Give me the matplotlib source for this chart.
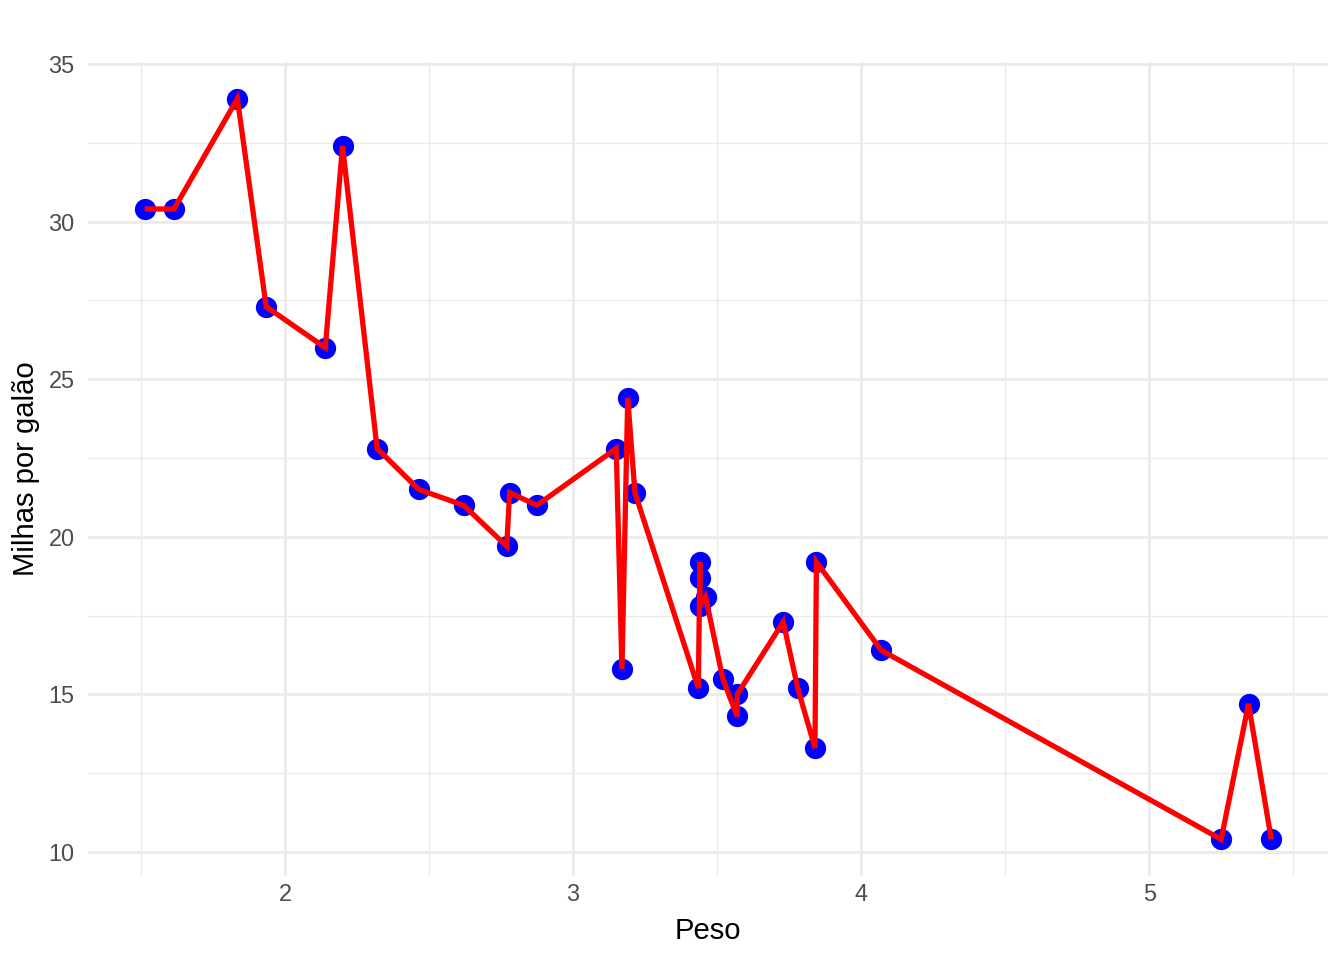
import matplotlib
matplotlib.use("Agg")
import matplotlib.pyplot as plt
from matplotlib.ticker import MultipleLocator
import numpy as np

# mtcars: peso (wt) e consumo (mpg)
wt = [2.620, 2.875, 2.320, 3.215, 3.440, 3.460, 3.570, 3.190, 3.150, 3.440,
      3.440, 4.070, 3.730, 3.780, 5.250, 5.424, 5.345, 2.200, 1.615, 1.835,
      2.465, 3.520, 3.435, 3.840, 3.845, 1.935, 2.140, 1.513, 3.170, 2.770,
      3.570, 2.780]
mpg = [21.0, 21.0, 22.8, 21.4, 18.7, 18.1, 14.3, 24.4, 22.8, 19.2,
       17.8, 16.4, 17.3, 15.2, 10.4, 10.4, 14.7, 32.4, 30.4, 33.9,
       21.5, 15.5, 15.2, 13.3, 19.2, 27.3, 26.0, 30.4, 15.8, 19.7,
       15.0, 21.4]

x_ticks = [2, 3, 4, 5]
y_ticks = [10, 15, 20, 25, 30, 35]

plt.rcParams['font.family'] = ['Liberation Sans', 'DejaVu Sans']

x = np.array(wt)
y = np.array(mpg)
order = np.argsort(x, kind="stable")

fig = plt.figure(figsize=(13.44, 9.6), dpi=100)
ax = fig.add_axes([0.0657, 0.0871, 0.9221, 0.8487])

ax.scatter(x, y, s=15.3**2, color="blue", zorder=3, linewidths=0)
ax.plot(x[order], y[order], color="red", lw=3.8, zorder=4,
        solid_joinstyle="miter", solid_capstyle="butt")

pad_x = (x.max() - x.min()) * 0.05
pad_y = (y.max() - y.min()) * 0.05
ax.set_xlim(x.min() - pad_x, x.max() + pad_x)
ax.set_ylim(y.min() - pad_y, y.max() + pad_y)

ax.set_xticks(x_ticks)
ax.set_yticks(y_ticks)
ax.xaxis.set_minor_locator(MultipleLocator(0.5))
ax.yaxis.set_minor_locator(MultipleLocator(2.5))

ax.grid(which="major", color="#EBEBEB", lw=2.05)
ax.grid(which="minor", color="#EBEBEB", lw=1.0)
ax.set_axisbelow(True)
for s in ax.spines.values():
    s.set_visible(False)

ax.tick_params(which="both", length=0)
ax.tick_params(axis="x", labelsize=16.9, labelcolor="#4D4D4D", pad=4.5)
ax.tick_params(axis="y", labelsize=16.9, labelcolor="#4D4D4D", pad=10)

ax.set_xlabel("Peso", fontsize=21.1, labelpad=8.5)
ax.set_ylabel("Milhas por galão", fontsize=21.1, labelpad=6)

fig.savefig("out.png", dpi=100)
